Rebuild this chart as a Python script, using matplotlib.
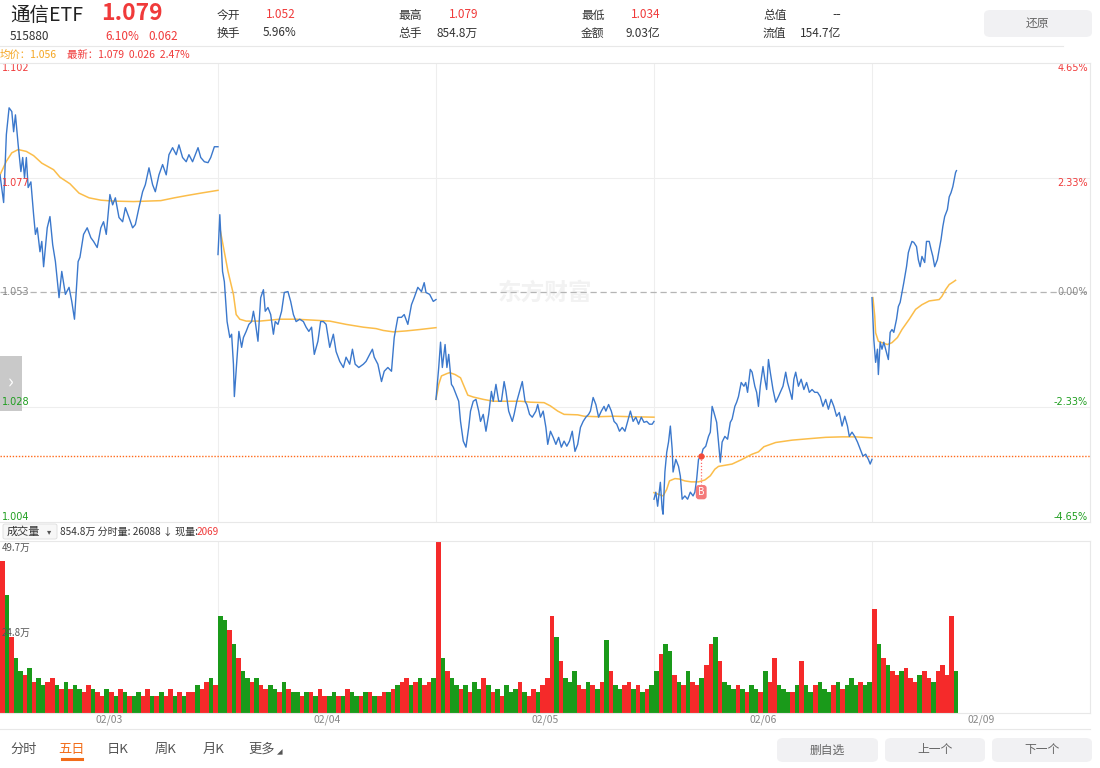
import matplotlib
matplotlib.use("Agg")
import matplotlib.pyplot as plt
from matplotlib.patches import FancyBboxPatch, Rectangle

plt.rcParams['font.family'] = ['Noto Sans CJK SC', 'DejaVu Sans']

# ---------------- data ----------------
PRE_CLOSE = 1.053
DATES = ["02/03", "02/04", "02/05", "02/06", "02/09"]
LEFT_LABELS = ["1.102", "1.077", "1.053", "1.028", "1.004"]
RIGHT_LABELS = ["4.65%", "2.33%", "0.00%", "-2.33%", "-4.65%"]
PCT_LEVELS = [4.65, 2.33, 0.0, -2.33, -4.65]
BUY_DAY, BUY_MIN, BUY_PRICE = 3, 52, 1.0182

# minute of the session (0..240) and price, one pair of lists per day
d1_t = [0, 4, 7, 10, 13, 15, 17, 18, 20, 23, 25, 27, 29, 31, 34, 37, 39, 41, 44, 46,
        48, 52, 55, 58, 61, 65, 68, 72, 76, 79, 82, 86, 88, 92, 96, 100, 103, 107, 111, 114,
        117, 121, 124, 127, 131, 135, 138, 142, 146, 149, 153, 157, 160, 164, 168, 171, 175, 179, 183, 186,
        190, 194, 197, 201, 205, 208, 212, 218, 221, 225, 229, 232, 236, 240]
d1_p = [1.0781, 1.0722, 1.0867, 1.0924, 1.0916, 1.0873, 1.0909, 1.0888, 1.0845, 1.0788,
        1.0818, 1.0775, 1.0818, 1.0754, 1.0766, 1.0696, 1.0654, 1.0668, 1.0617, 1.0639,
        1.0585, 1.0668, 1.0692, 1.0632, 1.0596, 1.0519, 1.0575, 1.0526, 1.0541, 1.0511,
        1.0473, 1.0596, 1.0605, 1.0654, 1.0668, 1.0647, 1.0639, 1.0626, 1.0668, 1.0681,
        1.0654, 1.0739, 1.0717, 1.0732, 1.0690, 1.0681, 1.0711, 1.0690, 1.0668, 1.0675,
        1.0711, 1.0745, 1.0760, 1.0796, 1.0760, 1.0745, 1.0781, 1.0803, 1.0781, 1.0824,
        1.0839, 1.0824, 1.0845, 1.0818, 1.0809, 1.0824, 1.0809, 1.0839, 1.0818, 1.0809,
        1.0807, 1.0818, 1.0841, 1.0841]

d2_t = [0, 2, 5, 7, 10, 13, 15, 17, 18, 21, 23, 26, 28, 31, 34, 37, 39, 41, 44, 47,
        50, 52, 55, 58, 61, 63, 66, 70, 73, 77, 80, 83, 86, 90, 94, 97, 100, 103, 106, 110,
        113, 116, 119, 123, 127, 130, 134, 138, 141, 145, 148, 151, 155, 160, 163, 167, 170, 172, 176, 180,
        183, 187, 191, 194, 198, 202, 205, 209, 213, 216, 220, 224, 227, 229, 233, 237, 240]
d2_p = [1.0611, 1.0696, 1.0575, 1.0553, 1.0468, 1.0434, 1.0441, 1.0377, 1.0308, 1.0392,
        1.0447, 1.0413, 1.0434, 1.0447, 1.0462, 1.0468, 1.0490, 1.0468, 1.0426, 1.0519,
        1.0536, 1.0490, 1.0498, 1.0483, 1.0441, 1.0468, 1.0462, 1.0490, 1.0530, 1.0532,
        1.0511, 1.0483, 1.0468, 1.0473, 1.0468, 1.0456, 1.0447, 1.0456, 1.0398, 1.0426,
        1.0468, 1.0468, 1.0462, 1.0413, 1.0441, 1.0404, 1.0383, 1.0370, 1.0392, 1.0377,
        1.0409, 1.0377, 1.0370, 1.0377, 1.0383, 1.0398, 1.0409, 1.0392, 1.0377, 1.0340,
        1.0362, 1.0370, 1.0362, 1.0434, 1.0477, 1.0477, 1.0483, 1.0462, 1.0504, 1.0519,
        1.0541, 1.0532, 1.0551, 1.0530, 1.0526, 1.0511, 1.0515]

d3_t = [0, 3, 5, 7, 10, 12, 14, 17, 19, 22, 25, 27, 30, 33, 36, 38, 41, 44, 47, 49,
        52, 55, 58, 61, 63, 66, 69, 72, 75, 77, 80, 84, 86, 89, 92, 95, 98, 100, 103, 106,
        110, 112, 115, 118, 121, 123, 126, 129, 132, 135, 138, 141, 144, 147, 150, 153, 156, 159, 162, 165,
        168, 170, 173, 176, 179, 182, 185, 187, 190, 193, 196, 199, 202, 205, 208, 211, 214, 217, 220, 223,
        226, 229, 232, 235, 238, 240]
d3_p = [1.0302, 1.0370, 1.0424, 1.0370, 1.0419, 1.0370, 1.0398, 1.0334, 1.0328, 1.0313,
        1.0298, 1.0255, 1.0213, 1.0200, 1.0242, 1.0277, 1.0298, 1.0302, 1.0277, 1.0255,
        1.0270, 1.0234, 1.0270, 1.0319, 1.0298, 1.0334, 1.0298, 1.0298, 1.0340, 1.0319,
        1.0277, 1.0255, 1.0270, 1.0298, 1.0319, 1.0340, 1.0298, 1.0291, 1.0270, 1.0264,
        1.0277, 1.0291, 1.0264, 1.0277, 1.0242, 1.0206, 1.0234, 1.0221, 1.0206, 1.0221,
        1.0200, 1.0213, 1.0202, 1.0213, 1.0234, 1.0191, 1.0206, 1.0242, 1.0255, 1.0264,
        1.0270, 1.0277, 1.0306, 1.0291, 1.0264, 1.0277, 1.0287, 1.0277, 1.0291, 1.0277,
        1.0255, 1.0249, 1.0234, 1.0242, 1.0234, 1.0255, 1.0277, 1.0255, 1.0264, 1.0249,
        1.0264, 1.0253, 1.0255, 1.0249, 1.0249, 1.0255]

d4_t = [0, 2, 4, 7, 9, 10, 12, 14, 16, 18, 20, 21, 24, 27, 29, 31, 34, 37, 40, 43,
        45, 47, 49, 52, 54, 57, 60, 62, 64, 66, 69, 71, 73, 75, 78, 81, 84, 86, 89, 91,
        93, 96, 99, 101, 103, 106, 108, 111, 113, 115, 117, 120, 122, 124, 126, 128, 131, 134, 137, 139,
        142, 145, 147, 150, 152, 154, 156, 159, 162, 165, 168, 171, 174, 177, 180, 183, 186, 189, 192, 195,
        198, 201, 204, 207, 210, 213, 215, 218, 221, 224, 227, 230, 233, 236, 238, 240]
d4_p = [1.0089, 1.0104, 1.0074, 1.0125, 1.0068, 1.0057, 1.0147, 1.0189, 1.0211, 1.0245,
        1.0196, 1.0147, 1.0174, 1.0159, 1.0138, 1.0089, 1.0096, 1.0089, 1.0104, 1.0096,
        1.0104, 1.0132, 1.0174, 1.0181, 1.0196, 1.0202, 1.0223, 1.0232, 1.0287, 1.0274,
        1.0253, 1.0211, 1.0168, 1.0211, 1.0223, 1.0217, 1.0253, 1.0260, 1.0287, 1.0296,
        1.0308, 1.0338, 1.0330, 1.0338, 1.0317, 1.0366, 1.0360, 1.0330, 1.0317, 1.0287,
        1.0330, 1.0372, 1.0345, 1.0323, 1.0387, 1.0360, 1.0323, 1.0296, 1.0308, 1.0317,
        1.0330, 1.0360, 1.0338, 1.0317, 1.0302, 1.0345, 1.0360, 1.0330, 1.0345, 1.0323,
        1.0338, 1.0317, 1.0323, 1.0317, 1.0317, 1.0308, 1.0287, 1.0302, 1.0281, 1.0302,
        1.0287, 1.0266, 1.0274, 1.0245, 1.0266, 1.0245, 1.0223, 1.0232, 1.0223, 1.0211,
        1.0196, 1.0181, 1.0185, 1.0174, 1.0164, 1.0174]

d5_t = [0, 2, 4, 6, 7, 9, 11, 13, 15, 18, 20, 22, 24, 27, 29, 31, 33, 35, 38, 40,
        42, 44, 46, 49, 51, 53, 55, 58, 60, 63, 65, 67, 69, 72, 74, 76, 78, 80, 83, 85,
        87, 89, 92, 93]
d5_p = [1.0519, 1.0430, 1.0381, 1.0409, 1.0355, 1.0424, 1.0409, 1.0424, 1.0409, 1.0387,
        1.0445, 1.0451, 1.0445, 1.0473, 1.0500, 1.0509, 1.0530, 1.0551, 1.0585, 1.0615,
        1.0628, 1.0639, 1.0637, 1.0628, 1.0600, 1.0585, 1.0607, 1.0594, 1.0639, 1.0639,
        1.0622, 1.0607, 1.0585, 1.0600, 1.0622, 1.0643, 1.0671, 1.0692, 1.0707, 1.0734,
        1.0743, 1.0756, 1.0786, 1.0790]

# average price (均价) per day
a1_t = [0, 7, 13, 20, 29, 37, 46, 59, 66, 77, 87, 98, 111, 125, 147, 162, 177, 192, 206, 221, 240]
a1_p = [1.0781, 1.0810, 1.0828, 1.0835, 1.0831, 1.0822, 1.0806, 1.0792, 1.0776, 1.0762, 1.0742,
        1.0732, 1.0727, 1.0725, 1.0724, 1.0725, 1.0726, 1.0732, 1.0737, 1.0742, 1.0748]
a2_t = [2, 11, 17, 20, 24, 31, 46, 68, 86, 105, 123, 141, 160, 174, 182, 193, 207, 222, 240]
a2_p = [1.0668, 1.0575, 1.0526, 1.0483, 1.0473, 1.0469, 1.0469, 1.0473, 1.0473, 1.0471,
        1.0469, 1.0462, 1.0456, 1.0453, 1.0449, 1.0446, 1.0448, 1.0451, 1.0455]
a3_t = [0, 3, 6, 12, 15, 21, 27, 30, 35, 41, 52, 63, 78, 93, 104, 119, 126, 134, 141, 156,
        163, 178, 196, 215, 240]
a3_p = [1.0302, 1.0334, 1.0352, 1.0357, 1.0359, 1.0355, 1.0348, 1.0334, 1.0311, 1.0307,
        1.0302, 1.0298, 1.0298, 1.0298, 1.0296, 1.0295, 1.0288, 1.0277, 1.0270, 1.0269,
        1.0266, 1.0265, 1.0266, 1.0265, 1.0264]
a4_t = [0, 4, 10, 14, 17, 23, 28, 34, 41, 49, 56, 62, 67, 71, 86, 97, 108, 115, 121, 134,
        152, 170, 189, 207, 222, 240]
a4_p = [1.0103, 1.0100, 1.0096, 1.0110, 1.0128, 1.0133, 1.0132, 1.0128, 1.0126, 1.0126,
        1.0130, 1.0139, 1.0153, 1.0159, 1.0164, 1.0174, 1.0185, 1.0190, 1.0201, 1.0210,
        1.0215, 1.0218, 1.0221, 1.0222, 1.0222, 1.0220]
a5_t = [1, 3, 4, 7, 11, 17, 22, 28, 33, 41, 48, 55, 63, 74, 77, 81, 85, 89, 92]
a5_p = [1.0519, 1.0480, 1.0444, 1.0426, 1.0423, 1.0419, 1.0423, 1.0434, 1.0451, 1.0473,
        1.0494, 1.0504, 1.0512, 1.0515, 1.0522, 1.0536, 1.0547, 1.0552, 1.0556]

# volume (万) in 5-minute buckets, with bar colour r/g
v1 = [44, 34, 22, 16, 12, 11, 13, 9, 10, 8, 9, 10, 8, 7, 9, 7, 8, 7, 6, 8, 7, 6, 5, 7,
      6, 5, 7, 6, 5, 5, 6, 5, 7, 5, 5, 6, 5, 7, 5, 6, 5, 6, 6, 8, 7, 9, 10, 8]
c1 = "rgrggrgrggrrgrgrggrrgrrgrgrgrggrrgrgrrgrgrrgrrgr"
v2 = [28, 27, 24, 20, 16, 12, 10, 9, 10, 8, 7, 8, 7, 6, 9, 7, 6, 6, 5, 6, 6, 5, 7, 5,
      5, 6, 5, 5, 7, 6, 5, 5, 6, 6, 5, 5, 6, 6, 7, 8, 9, 10, 8, 9, 10, 8, 9, 10]
c2 = "ggrgrggrgrrggrgrggrgrgrrggrgrggrgrgrrgrgrrgrgrr"
v3 = [49.7, 16, 12, 10, 8, 7, 8, 6, 9, 7, 10, 8, 6, 7, 5, 8, 6, 7, 9, 6, 5, 7, 6, 8,
      10, 28, 22, 15, 10, 9, 12, 8, 7, 9, 8, 7, 9, 21, 12, 8, 7, 8, 9, 7, 8, 6, 7, 8]
c3 = "rgrggrgrggrgrgrgggrgrrgrrrgrgggrrgrgrgrggrrgrgrg"
v4 = [12, 17, 20, 18, 11, 9, 8, 12, 9, 8, 10, 14, 20, 22, 15, 9, 8, 7, 8, 7, 6, 8, 7, 6,
      12, 9, 16, 8, 7, 6, 6, 8, 15, 8, 6, 8, 9, 7, 6, 8, 9, 7, 8, 10, 8, 9, 8, 9]
c4 = "grggrgrgrrgrrgrgggrgrggrgrrgggrgrggrgggrgrgggrgg"
v5 = [30, 20, 16, 14, 12, 11, 12, 13, 10, 9, 11, 12, 10, 9, 12, 14, 11, 28, 12]
c5 = "rgrgrrgrrrgrrgrrrrg"

prices = [(d1_t, d1_p), (d2_t, d2_p), (d3_t, d3_p), (d4_t, d4_p), (d5_t, d5_p)]
averages = [(a1_t, a1_p), (a2_t, a2_p), (a3_t, a3_p), (a4_t, a4_p), (a5_t, a5_p)]
volumes = [(v1, c1), (v2, c2), (v3, c3), (v4, c4), (v5, c5)]

# ---------------- style ----------------
W, H = 1100, 768
RED = "#f03a3a"
GREEN = "#1f9e1f"
BLUE = "#3b78cc"
ORANGE = "#fbbd4a"
LINE = "#e8e8e8"
DARK = "#333333"
MID = "#888888"
DAY_LEN = 240

fig = plt.figure(figsize=(11, 7.68), dpi=100)


def txt(x, y, s, **kw):
    kw.setdefault("va", "center")
    kw.setdefault("color", DARK)
    return fig.text(x / W, 1 - y / H, s, **kw)


def hline(y, x0=0, x1=1090, color=LINE, lw=0.8):
    fig.add_artist(plt.Line2D([x0 / W, x1 / W], [1 - y / H, 1 - y / H], color=color, lw=lw))


def button(x0, y0, x1, y1, label):
    fig.add_artist(FancyBboxPatch((x0 / W, 1 - y1 / H), (x1 - x0) / W, (y1 - y0) / H,
                                  boxstyle="round,pad=0,rounding_size=0.006",
                                  transform=fig.transFigure, fc="#f1f1f3", ec="none"))
    txt((x0 + x1) / 2, (y0 + y1) / 2, label, ha="center", fontsize=8.5, color="#666666")


# ---------------- header ----------------
txt(10, 15, "通信ETF", fontsize=14, color="#222222")
txt(101, 14, "1.079", fontsize=16.5, color=RED, fontweight="bold")
txt(10, 37, "515880", fontsize=8.5)
txt(105, 37, "6.10%", fontsize=8.5, color=RED)
txt(148, 37, "0.062", fontsize=8.5, color=RED)

cols = [(217, 296, [("今开", "1.052", RED), ("换手", "5.96%", DARK)]),
        (398, 478, [("最高", "1.079", RED), ("总手", "854.8万", DARK)]),
        (581, 660, [("最低", "1.034", RED), ("金额", "9.03亿", DARK)]),
        (763, 841, [("总值", "--", DARK), ("流值", "154.7亿", DARK)])]
for xl, xr, rows in cols:
    for (lab, val, col), y in zip(rows, [15, 33]):
        txt(xl, y, lab, fontsize=8.5)
        fam = ["DejaVu Sans"] if val == "--" else None
        txt(xr, y, val, fontsize=8.5, color=col, ha="right", family=fam)

button(984, 10, 1092, 37, "还原")
hline(46, 0, 1063)

txt(0, 55, "均价：1.056", fontsize=7.5, color="#f5a623")
txt(67, 55, "最新：1.079  0.026  2.47%", fontsize=7.5, color=RED)
hline(63)

# ---------------- price panel ----------------
levels = [PRE_CLOSE * (1 + p / 100) for p in PCT_LEVELS]
ax = fig.add_axes([0, (H - 522) / H, 1090 / W, 459 / H])
ax.set_xlim(0, 5 * DAY_LEN)
ax.set_ylim(levels[-1], levels[0])
ax.set_xticks([])
ax.set_yticks([])
for s in ["left", "top"]:
    ax.spines[s].set_visible(False)
for s in ["right", "bottom"]:
    ax.spines[s].set_color(LINE)

for k in range(1, 5):
    ax.axvline(k * DAY_LEN, color="#eeeeee", lw=0.8, zorder=0)
ax.axhline(levels[1], color="#eeeeee", lw=0.8, zorder=0)
ax.axhline(levels[3], color="#eeeeee", lw=0.8, zorder=0)
ax.axhline(PRE_CLOSE, color="#b5b5b5", lw=0.9, ls=(0, (5, 3)), zorder=1)

ax.text(600, PRE_CLOSE, "东方财富", ha="center", va="center", fontsize=17,
        fontweight="bold", color="#f2f2f2", zorder=0)

for i, ((t, p), (at, ap)) in enumerate(zip(prices, averages)):
    ax.plot([i * DAY_LEN + m for m in at], ap, color=ORANGE, lw=1.1, zorder=3)
    ax.plot([i * DAY_LEN + m for m in t], p, color=BLUE, lw=1.0, zorder=4)

# buy marker
ax.axhline(BUY_PRICE, color="#ff6a1a", lw=1.0, ls=(0, (1, 1.2)), zorder=2)
bx = BUY_DAY * DAY_LEN + BUY_MIN
ax.plot([bx, bx], [BUY_PRICE, 1.0112], color="#ff6a6a", lw=0.9, ls=(0, (1, 1.5)), zorder=5)
ax.plot(bx, BUY_PRICE, "o", color="#f24a3a", ms=3.5, zorder=6)
ax.text(bx, 1.0104, "B", ha="center", va="center", fontsize=7, color="white", zorder=7,
        bbox=dict(boxstyle="round,pad=0.15,rounding_size=0.25", fc="#f47a7a", ec="#f47a7a"))

# left collapse tab (under the axis labels)
ax.add_patch(Rectangle((0, 1 - 411 / H), 22 / W, 55 / H, transform=fig.transFigure,
                       fc="#c9c9c9", ec="none", zorder=7, clip_on=False))
ax.text(11 / W, 1 - 383 / H, "›", transform=fig.transFigure, ha="center", va="center",
        fontsize=14, color="white", zorder=7.5)

ytr = ax.get_yaxis_transform()
label_cols = [RED, RED, MID, GREEN, GREEN]
vas = ["top", "top", "center", "bottom", "bottom"]
for lv, ll, rl, c, va in zip(levels, LEFT_LABELS, RIGHT_LABELS, label_cols, vas):
    ax.text(0.002, lv, ll, transform=ytr, fontsize=7, color=c, va=va, ha="left", zorder=8,
            family="DejaVu Sans")
    ax.text(0.998, lv, rl, transform=ytr, fontsize=7, color=c, va=va, ha="right", zorder=8,
            family="DejaVu Sans")

# ---------------- volume panel ----------------
fig.add_artist(FancyBboxPatch((3 / W, 1 - 539 / H), 54 / W, 15 / H,
                              boxstyle="round,pad=0,rounding_size=0.002",
                              transform=fig.transFigure, fc="#f7f7f7", ec="#dddddd", lw=0.6))
txt(7, 532, "成交量", fontsize=8)
txt(47, 532, "▾", fontsize=6, color="#555555")
txt(60, 532, "854.8万 分时量: 26088 ↓ 现量:", fontsize=7.2)
txt(197, 532, "2069", fontsize=7.2, color=RED)
hline(541)

vax = fig.add_axes([0, (H - 713) / H, 1090 / W, 172 / H])
vax.set_xlim(0, 5 * DAY_LEN)
vax.set_ylim(0, 49.7)
vax.set_xticks([])
vax.set_yticks([])
for s in ["left", "top"]:
    vax.spines[s].set_visible(False)
for s in ["right", "bottom"]:
    vax.spines[s].set_color(LINE)
for k in range(1, 5):
    vax.axvline(k * DAY_LEN, color="#eeeeee", lw=0.8, zorder=0)

for i, (vals, cols_) in enumerate(volumes):
    xs = [i * DAY_LEN + j * 5 + 2.5 for j in range(len(vals))]
    colors = ["#f52a2a" if c == "r" else "#1a9a1a" for c in cols_]
    vax.bar(xs, vals, width=5, color=colors, linewidth=0)

txt(2, 548, "49.7万", fontsize=7, color="#555555")
txt(2, 633, "24.8万", fontsize=7, color="#555555")

for i, d in enumerate(DATES):
    txt(109 + 218 * i, 720, d, ha="center", fontsize=7.5, color=MID)
hline(729)

# ---------------- bottom tabs ----------------
tabs = ["分时", "五日", "日K", "周K", "月K", "更多"]
tab_x = [10, 58, 107, 155, 203, 248]
for lab, x in zip(tabs, tab_x):
    txt(x, 749, lab, fontsize=9.5, color="#f26d1a" if lab == "五日" else "#555555")
hline(759, 62, 82, color="#f26d1a", lw=2.2)
txt(277, 753, "◢", fontsize=4, color="#555555")

button(777, 738, 878, 762, "删自选")
button(885, 738, 985, 762, "上一个")
button(992, 738, 1092, 762, "下一个")

fig.savefig("out.png", dpi=100)
